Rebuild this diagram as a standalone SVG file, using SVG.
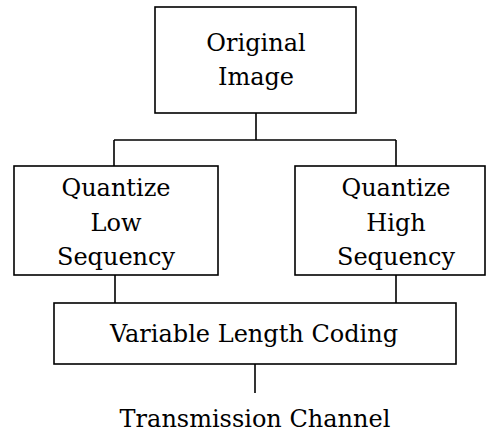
<svg xmlns="http://www.w3.org/2000/svg" width="487" height="435" viewBox="0 0 487 435">
  <style>
    .box { fill: #ffffff; stroke: #000000; stroke-width: 1.6; }
    .wire { fill: none; stroke: #000000; stroke-width: 1.6; }
    .label { font-family: "DejaVu Serif", "Liberation Serif", serif; font-size: 24px; fill: #000000; text-anchor: middle; }
  </style>
  <rect width="487" height="435" fill="#ffffff"/>

  <!-- connectors -->
  <g id="connectors">
    <path class="wire" d="M256 113 V140 M114 140 H396 M114 140 V166 M396 140 V166"/>
    <path class="wire" d="M115 275 V303 M396 275 V303"/>
    <path class="wire" d="M255 364 V393"/>
  </g>

  <g id="original-image">
    <rect class="box" x="155" y="7" width="201" height="106"/>
    <text class="label" x="256" y="51">Original</text>
    <text class="label" x="256" y="85">Image</text>
  </g>

  <g id="quantize-low">
    <rect class="box" x="14" y="166" width="204" height="109"/>
    <text class="label" x="116" y="196">Quantize</text>
    <text class="label" x="116" y="231">Low</text>
    <text class="label" x="116" y="265">Sequency</text>
  </g>

  <g id="quantize-high">
    <rect class="box" x="295" y="166" width="190" height="109"/>
    <text class="label" x="396" y="196">Quantize</text>
    <text class="label" x="396" y="231">High</text>
    <text class="label" x="396" y="265">Sequency</text>
  </g>

  <g id="vlc">
    <rect class="box" x="54" y="303" width="402" height="61"/>
    <text class="label" x="254" y="342">Variable Length Coding</text>
  </g>

  <g id="channel">
    <text class="label" x="255" y="427">Transmission Channel</text>
  </g>
</svg>
